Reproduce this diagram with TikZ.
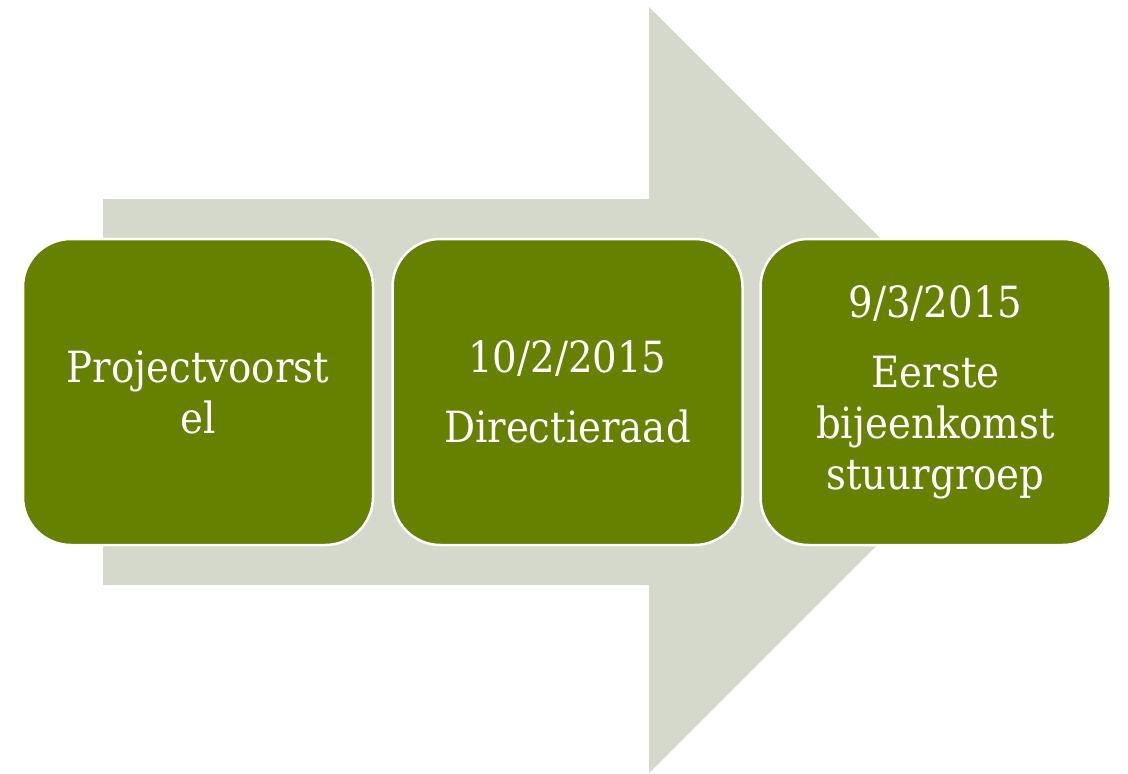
\documentclass[tikz,border=0pt]{standalone}
\usepackage{fontspec}
\setmainfont{DejaVu Serif Condensed}
\definecolor{olive}{HTML}{668000}
\definecolor{arrowgrey}{HTML}{D5D9CC}
\begin{document}
\begin{tikzpicture}[x=1pt,y=-1pt,
  stage/.style={draw=white, line width=2.5pt, fill=olive, rounded corners=48pt,
    minimum width=350pt, minimum height=306pt, text=white, align=center,
    inner sep=0pt, font=\fontsize{43}{51}\selectfont}]
\useasboundingbox (0,0) rectangle (1128,774);
\fill[arrowgrey] (103,199) -- (649,199) -- (649,7) -- (1032,390) -- (649,773) -- (649,585) -- (103,585) -- cycle;
\node[stage] (s1) at (198,392) {Projectvoorst\\el};
\node[stage] (s2) at (567.5,392) {10/2/2015\\[19pt]Directieraad};
\node[stage] (s3) at (935.5,392) {9/3/2015\\[19pt]Eerste\\bijeenkomst\\stuurgroep};
\end{tikzpicture}
\end{document}
